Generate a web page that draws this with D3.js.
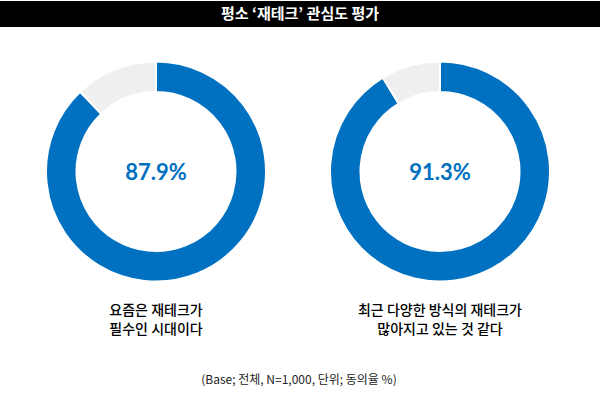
<!DOCTYPE html>
<html><head><meta charset="utf-8">
<script src="https://cdn.jsdelivr.net/npm/d3@7"></script>
<style>
html,body{margin:0;padding:0;background:#fff;}
svg{display:block;}
</style></head>
<body>
<svg id="chart" width="600" height="399"></svg>
<script>
const title = "평소 ‘재테크’ 관심도 평가";
const categories = [["요즘은 재테크가","필수인 시대이다"],["최근 다양한 방식의 재테크가","많아지고 있는 것 같다"]];
const values = [87.9, 91.3];
const footnote = "(Base; 전체, N=1,000, 단위; 동의율 %)";

const svg = d3.select("#chart");
const W = 600;
const font = "'Noto Sans CJK KR','Noto Sans',sans-serif";

svg.append("rect").attr("x",0).attr("y",1).attr("width",W).attr("height",26).attr("fill","#000");
svg.append("text").attr("x",300).attr("y",19).attr("text-anchor","middle")
  .attr("font-family",font).attr("font-weight",700).attr("font-size",15).attr("fill","#fff").text(title);

const x = d3.scalePoint().domain(d3.range(values.length)).range([156,440]);
const outerR = 110, innerR = 79.5;
const arc = d3.arc().innerRadius(innerR).outerRadius(outerR);
const pie = d3.pie().sort(null).value(d=>d);
const colors = ["#0070c0","#efefef"];

values.forEach((v,i)=>{
  const g = svg.append("g").attr("transform",`translate(${x(i)},171.5)`);
  g.selectAll("path").data(pie([v,100-v])).join("path")
    .attr("d",arc).attr("fill",(d,j)=>colors[j]).attr("stroke","#fff").attr("stroke-width",2);
  g.append("text").attr("y",8).attr("text-anchor","middle")
    .attr("font-family","Lato,'Noto Sans',sans-serif").attr("font-weight",700).attr("font-size",22)
    .attr("fill","#0070c0").text(v.toFixed(1)+"%");
  const t = svg.append("text").attr("x",x(i)).attr("text-anchor","middle")
    .attr("font-family",font).attr("font-weight",500).attr("font-size",14).attr("fill","#000");
  categories[i].forEach((line,k)=>{
    t.append("tspan").attr("x",x(i)).attr("y",315+k*19).text(line);
  });
});

svg.append("text").attr("x",299).attr("y",384).attr("text-anchor","middle")
  .attr("font-family",font).attr("font-size",12).attr("fill","#222").text(footnote);
</script>
</body></html>
